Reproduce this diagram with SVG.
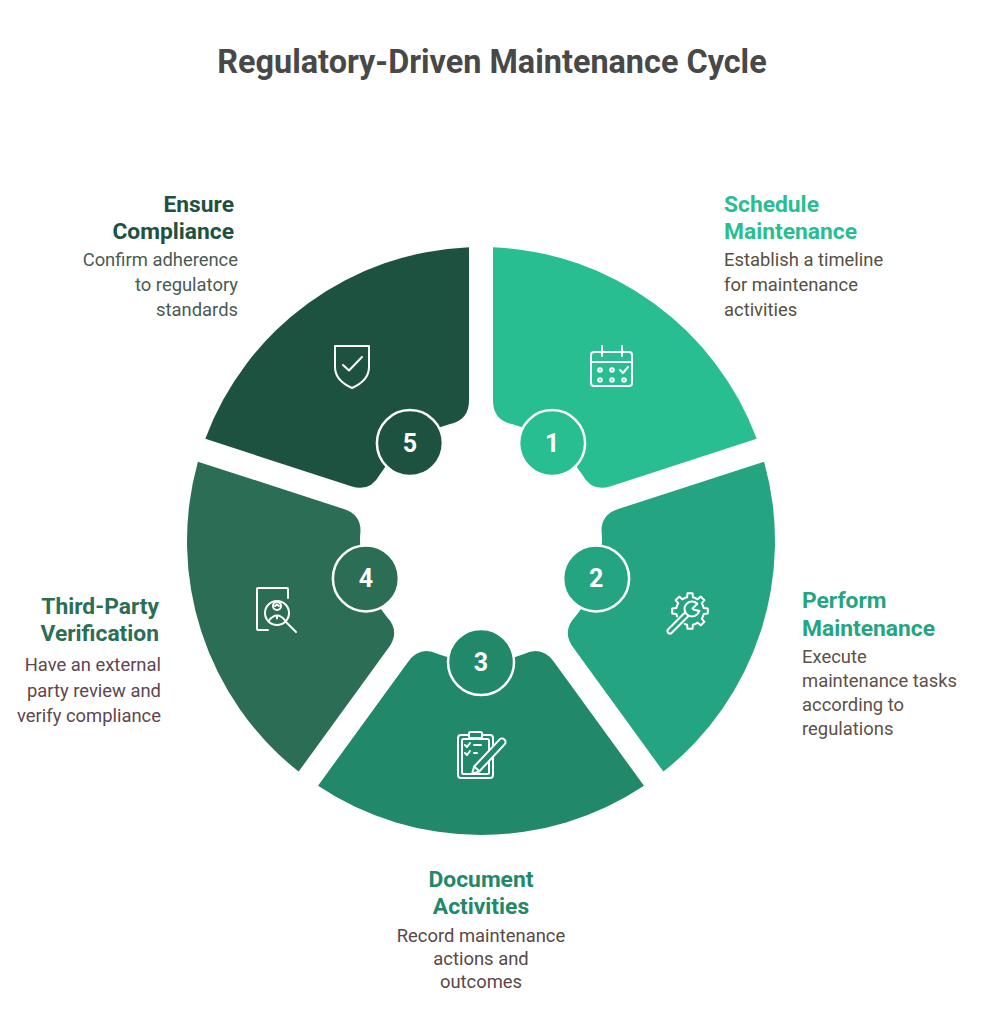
<svg xmlns="http://www.w3.org/2000/svg" xmlns:xlink="http://www.w3.org/1999/xlink" width="990" height="1024" viewBox="0 0 990 1024">
<style>
text{font-family:Roboto,"Liberation Sans",sans-serif}
.ttl{font-size:32.4px;font-weight:700;fill:#484848}
.h{font-size:22.8px;font-weight:700}
.b{font-size:18.4px;font-weight:400}
.num{font-size:25px;font-weight:700;fill:#fff;text-anchor:middle}
.ic{fill:none;stroke:#fff;stroke-width:2;stroke-linecap:round;stroke-linejoin:round}
.badge{stroke:#fff;stroke-width:2.5}
</style>
<defs>
<path id="seg" d="M -162.96 -244.70 A 294 294 0 0 1 162.96 -244.70 L 72.82 -120.64 Q 61.06 -104.46 43.03 -113.09 A 121 121 0 0 0 -43.03 -113.09 Q -61.06 -104.46 -72.82 -120.64 Z"/>
<path id="tooth" d="M -5.36 -12.93 L -2.91 -13.69 L -2.51 -17.82 L 2.51 -17.82 L 2.91 -13.69 L 5.36 -12.93"/>
</defs>
<rect width="990" height="1024" fill="#fff"/>
<text class="ttl" x="492" y="73" text-anchor="middle">Regulatory-Driven Maintenance Cycle</text>

<g id="connectors"></g>

<g id="node1">
<use xlink:href="#seg" transform="translate(481 541) rotate(36)" fill="#29BD92"/>
<circle class="badge" cx="552.1" cy="443.1" r="33" fill="#29BD92"/>
<text class="num" x="552.1" y="452">1</text>
<g class="ic">
<rect x="591" y="352" width="41" height="34" rx="3"/>
<line x1="591" y1="362" x2="632" y2="362"/>
<line x1="602" y1="346" x2="602" y2="356"/>
<line x1="622" y1="346" x2="622" y2="356"/>
<circle cx="600" cy="370" r="1.8"/><circle cx="612" cy="370" r="1.8"/>
<path d="M620 370 L623 373 L628 367"/>
<circle cx="600" cy="380" r="1.8"/><circle cx="612" cy="380" r="1.8"/><circle cx="624" cy="380" r="1.8"/>
</g>
<text class="h" x="724" y="211.5" fill="#29BD92">Schedule</text>
<text class="h" x="724" y="238.5" fill="#29BD92">Maintenance</text>
<g class="b" fill="#57503f">
<text x="724" y="265.5">Establish a timeline</text>
<text x="724" y="290.5">for maintenance</text>
<text x="724" y="315.5">activities</text>
</g>
</g>

<g id="node2">
<use xlink:href="#seg" transform="translate(481 541) rotate(108)" fill="#25A481"/>
<circle class="badge" cx="596.1" cy="578.4" r="33" fill="#25A481"/>
<text class="num" x="596.1" y="587.3">2</text>
<g class="ic">
<use xlink:href="#tooth" transform="translate(690 611) rotate(0)"/>
<use xlink:href="#tooth" transform="translate(690 611) rotate(45)"/>
<use xlink:href="#tooth" transform="translate(690 611) rotate(90)"/>
<use xlink:href="#tooth" transform="translate(690 611) rotate(135)"/>
<use xlink:href="#tooth" transform="translate(690 611) rotate(180)"/>
<use xlink:href="#tooth" transform="translate(690 611) rotate(270)"/>
<use xlink:href="#tooth" transform="translate(690 611) rotate(315)"/>
</g>
<line x1="688" y1="613" x2="670" y2="631" stroke="#fff" stroke-width="7" stroke-linecap="round"/>
<line x1="688" y1="613" x2="670" y2="631" stroke="#25A481" stroke-width="3" stroke-linecap="round"/>
<circle cx="692" cy="609" r="7.5" fill="#25A481" stroke="#fff" stroke-width="2"/>
<path d="M692 609 L700 601 L702 611 Z" fill="#25A481" stroke="none"/>
<path class="ic" d="M697.3 603.7 L692.5 608.5 M699.5 611 L693.5 609.5"/>
<text class="h" x="802" y="608" fill="#25A481">Perform</text>
<text class="h" x="802" y="635.5" fill="#25A481">Maintenance</text>
<g class="b" fill="#5e5046">
<text x="802" y="663">Execute</text>
<text x="802" y="687">maintenance tasks</text>
<text x="802" y="711">according to</text>
<text x="802" y="735">regulations</text>
</g>
</g>

<g id="node3">
<use xlink:href="#seg" transform="translate(481 541) rotate(180)" fill="#21886A"/>
<circle class="badge" cx="481" cy="662" r="33" fill="#21886A"/>
<text class="num" x="481" y="671">3</text>
<g class="ic">
<rect x="458" y="735" width="35" height="43" rx="3"/>
<rect x="462" y="739" width="27" height="35" rx="1.5"/>
<rect x="469" y="732" width="13" height="6" rx="1.5" fill="#21886A"/>
<path d="M465 745 L467 747 L470 743 M474 745 L481 745 M465 753 L467 755 L470 751 M474 753 L477 753"/>
<path d="M472 774 L474.2 766.5 L499.4 739.6 A 3.5 3.5 0 0 1 504.6 744.4 L479.4 771.3 Z" fill="#21886A"/>
<path d="M474.2 766.5 L479.4 771.3"/>
</g>
<text class="h" x="481" y="886.5" fill="#21886A" text-anchor="middle">Document</text>
<text class="h" x="481" y="913.5" fill="#21886A" text-anchor="middle">Activities</text>
<g class="b" fill="#5a4747" text-anchor="middle">
<text x="481" y="942">Record maintenance</text>
<text x="481" y="965">actions and</text>
<text x="481" y="988">outcomes</text>
</g>
</g>

<g id="node4">
<use xlink:href="#seg" transform="translate(481 541) rotate(252)" fill="#2C6D56"/>
<circle class="badge" cx="365.9" cy="578.4" r="33" fill="#2C6D56"/>
<text class="num" x="365.9" y="587.3">4</text>
<g class="ic">
<path d="M268 630 L258 630 Q257 630 257 629 L257 589 Q257 588 258 588 L287 588 Q288 588 288 589 L288 598"/>
<circle cx="277" cy="613" r="12"/>
<line x1="286" y1="622" x2="296" y2="632"/>
<circle cx="277" cy="606" r="4"/>
<path d="M275 606 L277 604.5 L279 606"/>
<path d="M268.5 621 Q277 610 285.5 621"/>
<line x1="277" y1="616" x2="277" y2="618.5"/>
</g>
<text class="h" x="159" y="614" fill="#2C6D56" text-anchor="end">Third-Party</text>
<text class="h" x="159" y="640.5" fill="#2C6D56" text-anchor="end">Verification</text>
<g class="b" fill="#5e4650" text-anchor="end">
<text x="161" y="671">Have an external</text>
<text x="161" y="697">party review and</text>
<text x="161" y="722">verify compliance</text>
</g>
</g>

<g id="node5">
<use xlink:href="#seg" transform="translate(481 541) rotate(324)" fill="#1E5240"/>
<circle class="badge" cx="409.9" cy="443.1" r="33" fill="#1E5240"/>
<text class="num" x="409.9" y="452">5</text>
<g class="ic">
<path d="M335 346 L369 346 L369 367 C369 377 361 384 352 388 C343 384 335 377 335 367 Z"/>
<path d="M343 365 L349 370.5 L362 357"/>
</g>
<text class="h" x="234" y="211.5" fill="#1E5240" text-anchor="end">Ensure</text>
<text class="h" x="234" y="238.5" fill="#1E5240" text-anchor="end">Compliance</text>
<g class="b" fill="#4a5a52" text-anchor="end">
<text x="238" y="265.5">Confirm adherence</text>
<text x="238" y="290.5">to regulatory</text>
<text x="238" y="315.5">standards</text>
</g>
</g>
</svg>
